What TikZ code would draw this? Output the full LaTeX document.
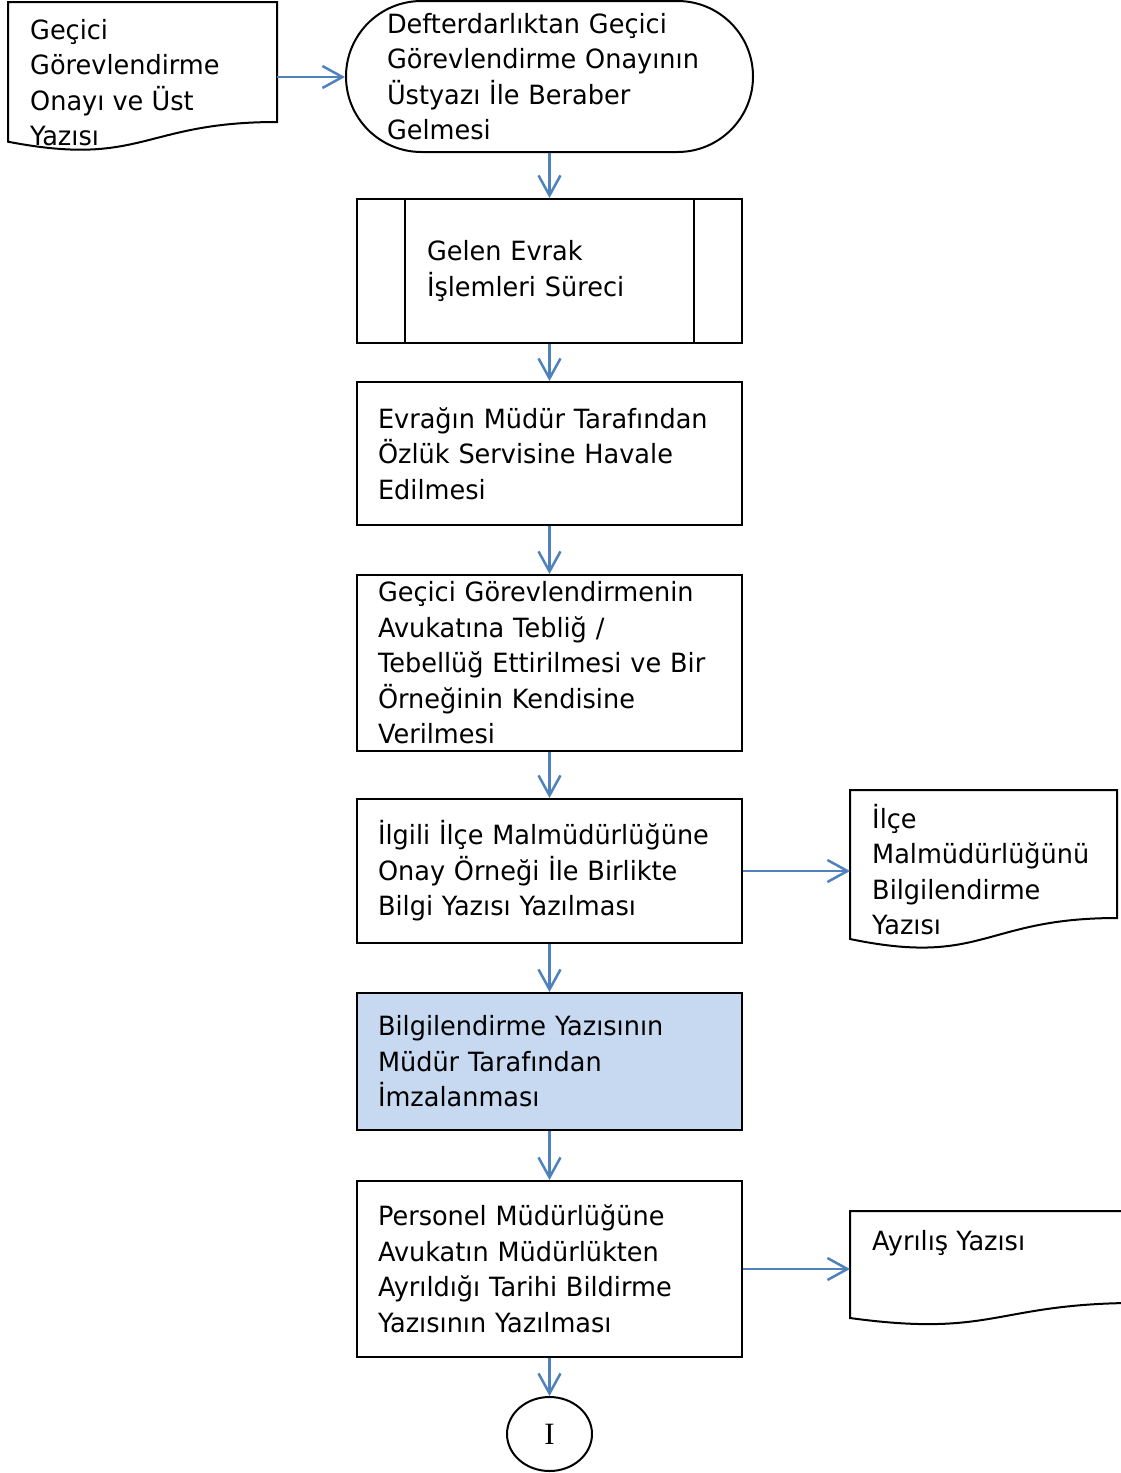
\documentclass[tikz,border=0pt]{standalone}
\usepackage{fontspec}
\setmainfont[FakeStretch=0.965]{DejaVu Sans}
\newfontfamily\serifI{Liberation Serif}
\usetikzlibrary{arrows.meta,shapes.geometric,calc}
\definecolor{arrowblue}{RGB}{79,129,189}
\definecolor{boxblue}{RGB}{198,217,240}
\begin{document}
\begin{tikzpicture}[x=1pt,y=-1pt,
  every node/.style={font=\fontsize{26.5}{35.5}\selectfont},
  outline/.style={draw=black, line width=2pt},
  boxnode/.style={outline, rectangle, minimum width=385pt, text width=343pt,
    inner xsep=21pt, inner ysep=0pt, align=left},
  procnode/.style={outline, rectangle, minimum width=385pt, text width=245pt,
    inner xsep=70pt, inner ysep=0pt, align=left},
  termnode/.style={outline, rectangle, rounded corners=75.5pt, minimum width=407pt,
    minimum height=151pt, text width=325pt, inner xsep=41pt, inner ysep=0pt, align=left},
  docbody/.style={rectangle, draw=none, inner sep=0pt, anchor=north west},
  doctext/.style={inner sep=0pt, anchor=north west, align=left},
  flow/.style={draw=arrowblue, line width=2.5pt,
    -{Straight Barb[length=20pt,width=22pt,line width=2.5pt]}}
]
\useasboundingbox (0,0) rectangle (1121,1473);
\clip (0,0) rectangle (1121,1473);

% document 1
\node[docbody, minimum width=269pt, minimum height=149.6pt] (d1) at (8,2) {};
\draw[outline] (8,2) -- (277,2) -- (277,122)
  .. controls (142.5,122) and (142.5,167.7) .. (8,141.7) -- cycle;
\node[doctext] (t1) at (30,14.2) {\strut Geçici\\Görevlendirme\\Onayı ve Üst\\Yazısı};

% terminal
\node[termnode] (term) at (549.5,76.5)
  {Defterdarlıktan Geçici\\Görevlendirme Onayının\\Üstyazı İle Beraber\\Gelmesi};

% process box
\node[procnode, minimum height=144pt] (proc) at (549.5,271) {Gelen Evrak\\İşlemleri Süreci};
\draw[outline] ([xshift=49pt]proc.north west) -- ([xshift=49pt]proc.south west);
\draw[outline] ([xshift=-49pt]proc.north east) -- ([xshift=-49pt]proc.south east);

\node[boxnode, minimum height=143pt] (b3) at (549.5,453.5)
  {Evrağın Müdür Tarafından\\Özlük Servisine Havale\\Edilmesi};
\node[boxnode, minimum height=176pt] (b4) at (549.5,663)
  {Geçici Görevlendirmenin\\Avukatına Tebliğ /\\Tebellüğ Ettirilmesi ve Bir\\Örneğinin Kendisine\\Verilmesi};
\node[boxnode, minimum height=144pt] (b5) at (549.5,871)
  {İlgili İlçe Malmüdürlüğüne\\Onay Örneği İle Birlikte\\Bilgi Yazısı Yazılması};
\node[boxnode, fill=boxblue, minimum height=137pt] (b6) at (549.5,1061.5)
  {Bilgilendirme Yazısının\\Müdür Tarafından\\İmzalanması};
\node[boxnode, minimum height=176pt] (b7) at (549.5,1269)
  {Personel Müdürlüğüne\\Avukatın Müdürlükten\\Ayrıldığı Tarihi Bildirme\\Yazısının Yazılması};

% connector
\node[outline, ellipse, minimum width=85pt, minimum height=74pt, inner sep=0pt,
  font=\serifI\fontsize{31}{34}\selectfont] (conn) at (549.5,1434) {I};

% document 2
\node[docbody, minimum width=267pt, minimum height=159.6pt] (d2) at (850,790) {};
\draw[outline] (850,790) -- (1117,790) -- (1117,918)
  .. controls (983.5,918) and (983.5,966.8) .. (850,939) -- cycle;
\node[doctext] (t2) at (872,803.2) {\strut İlçe\\Malmüdürlüğünü\\Bilgilendirme\\Yazısı};

% document 3
\node[docbody, minimum width=290pt, minimum height=114.6pt] (d3) at (850,1211) {};
\draw[outline] (850,1211) -- (1140,1211) -- (1140,1302.9)
  .. controls (995,1302.9) and (995,1337.9) .. (850,1318) -- cycle;
\node[doctext] (t3) at (872,1225.2) {\strut Ayrılış Yazısı};

% connectors
\draw[flow] (d1.east) -- (d1.east -| term.west);
\draw[flow] (term.south) -- (proc.north);
\draw[flow] (proc.south) -- (b3.north);
\draw[flow] (b3.south) -- (b4.north);
\draw[flow] (b4.south) -- (b5.north);
\draw[flow] (b5.east) -- (b5.east -| d2.west);
\draw[flow] (b5.south) -- (b6.north);
\draw[flow] (b6.south) -- (b7.north);
\draw[flow] (b7.east) -- (b7.east -| d3.west);
\draw[flow] (b7.south) -- (conn.north);
\end{tikzpicture}
\end{document}
